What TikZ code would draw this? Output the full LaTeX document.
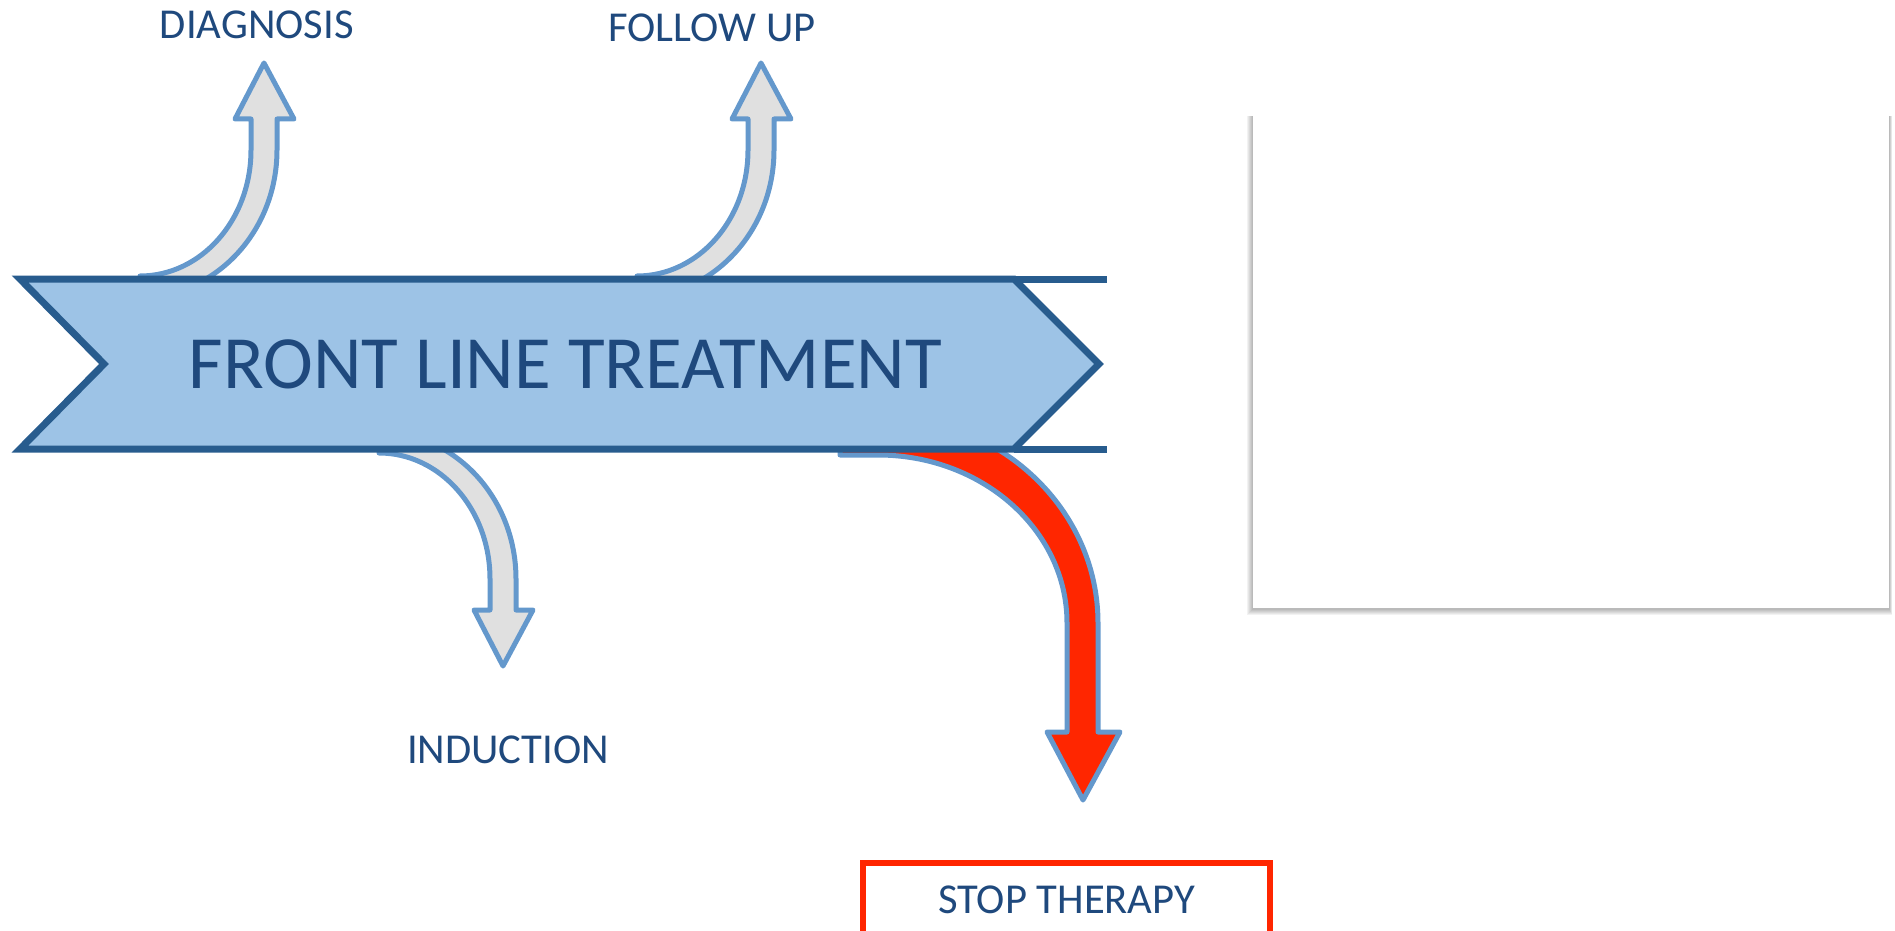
\documentclass[tikz,border=0pt]{standalone}
\usepackage{fontspec}
\setmainfont{Carlito}

\definecolor{bannerfill}{RGB}{157,195,230}
\definecolor{bannerline}{RGB}{40,92,142}
\definecolor{txtblue}{RGB}{31,73,125}
\definecolor{arrowline}{RGB}{100,152,204}
\definecolor{arrowgray}{RGB}{224,224,224}
\definecolor{stopred}{RGB}{255,38,0}

% outline of one bent block arrow (pixel units, y downwards)
\newcommand{\bendarrow}{(140,276) .. controls (201,276) and (251,220) .. (251,150)
  -- (251,119) -- (235,119) -- (264,63) -- (294,119) -- (277,119) -- (277,150)
  .. controls (277,231) and (216,297) .. (140,297) -- cycle}

\begin{document}
\begin{tikzpicture}[x=0.5pt,y=-0.5pt,
  lbl/.style={text=txtblue,font=\fontsize{21.3}{25}\selectfont,inner sep=0pt,anchor=base},
  grayarrow/.style={draw=arrowline,fill=arrowgray,line width=2.5pt,line join=round},
  redarrow/.style={draw=arrowline,fill=stopred,line width=2.5pt,line join=round},
  banner/.style={draw=bannerline,fill=bannerfill,line width=3.5pt,line join=miter}]
\useasboundingbox (0,0) rectangle (1895,931);
\clip (0,0) rectangle (1895,931);

% empty panel on the right
\foreach \s in {1,...,6}
  \fill[black,opacity=0.05] (1253-\s,116) rectangle (1889+0.5*\s,608+\s+1);
\fill[white] (1253,112) rectangle (1889,608);

% arrows under the banner
\draw[grayarrow] \bendarrow;
\begin{scope}[shift={(497,0)}]
\draw[grayarrow] \bendarrow;
\end{scope}
\begin{scope}[shift={(239,729)},yscale=-1]
\draw[grayarrow] \bendarrow;
\end{scope}
\draw[redarrow] (840,455) -- (878,455) .. controls (982,455) and (1067,530) .. (1067,623)
  -- (1067,732) -- (1047,732) -- (1083,800) -- (1120,732) -- (1098,732) -- (1098,623)
  .. controls (1098,509) and (1000,416) .. (878,416) -- (840,416) -- cycle;

% banner
\draw[banner] (20,279) -- (1014,279) -- (1099,364) -- (1014,449) -- (20,449) -- (104,364) -- cycle;
\draw[bannerline,line width=3.5pt] (1014,279) -- (1107,279) (1014,449) -- (1107,449);
\node[text=txtblue,font=\fontsize{37.6}{44}\selectfont,inner sep=0pt,anchor=base] (treatment) at (565.5,388.3) {FRONT LINE TREATMENT};

% labels
\node[lbl] (diagnosis) at (256.7,38.3) {DIAGNOSIS};
\node[lbl] (followup) at (712,41.7) {FOLLOW UP};
\node[lbl] (induction) at (508,763.3) {INDUCTION};
\node[lbl] (stop) at (1066.7,913.3) {STOP THERAPY};
\draw[stopred,line width=3pt] (863,863) rectangle (1270,960);
\end{tikzpicture}
\end{document}
